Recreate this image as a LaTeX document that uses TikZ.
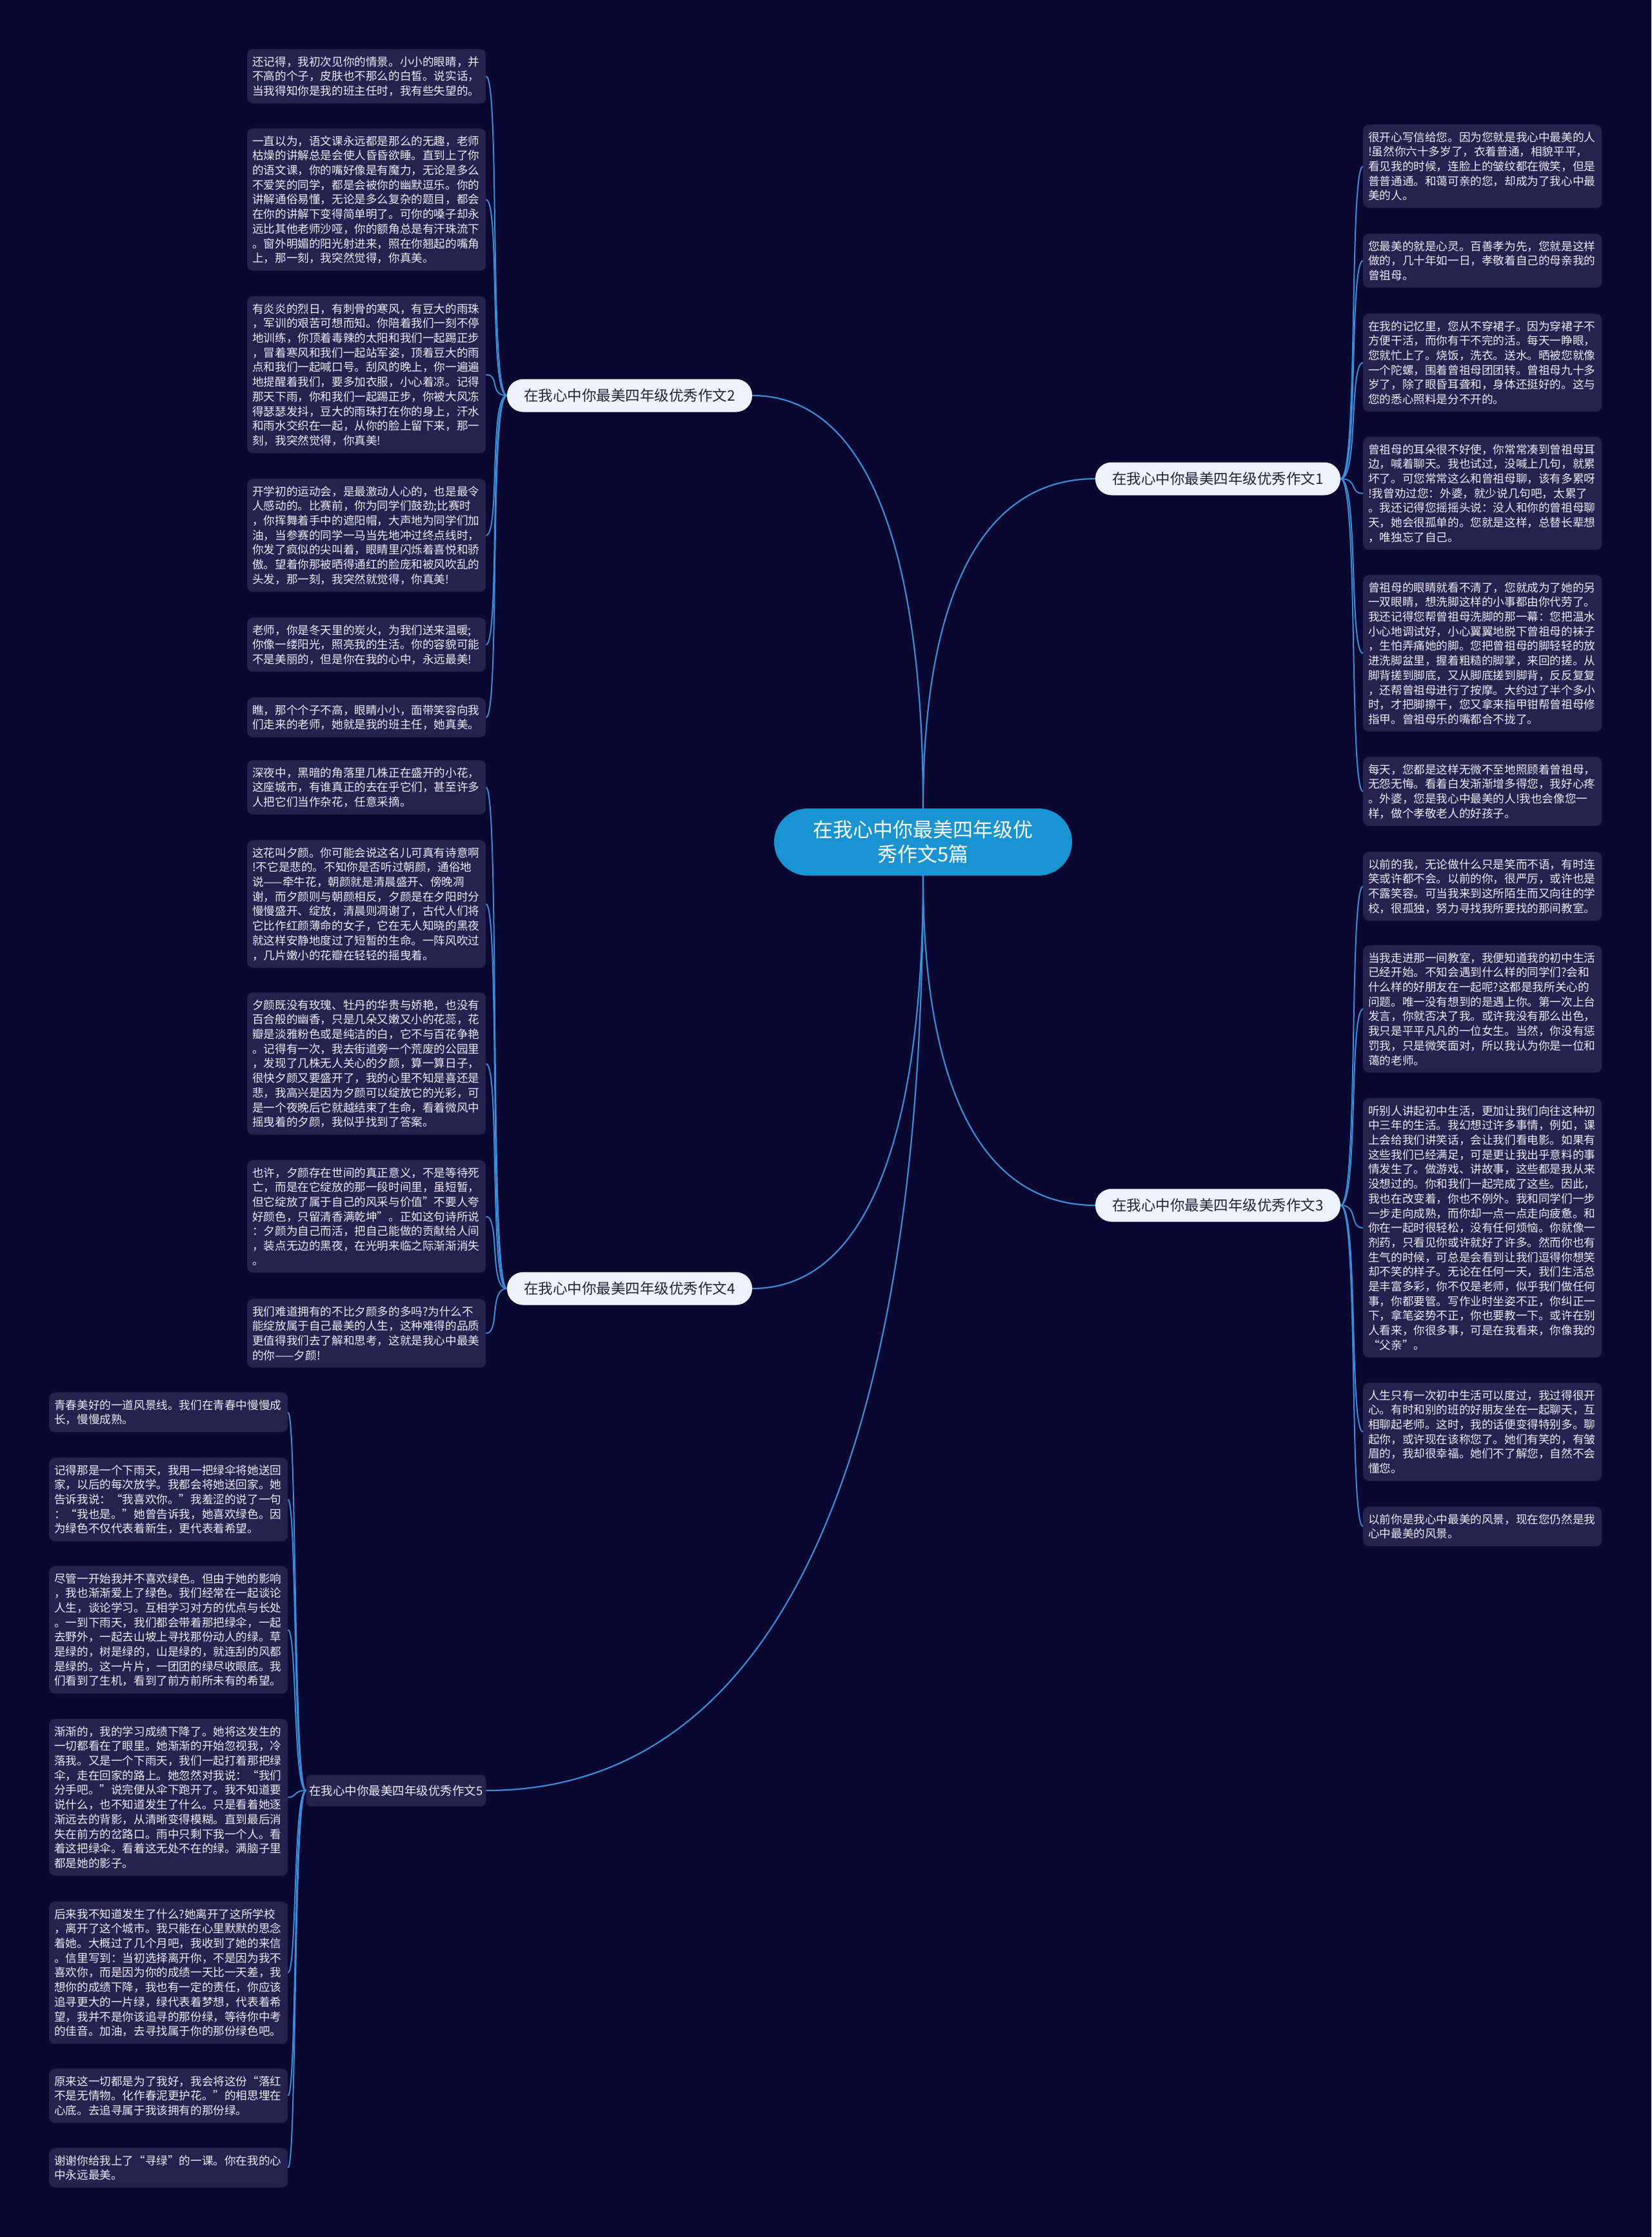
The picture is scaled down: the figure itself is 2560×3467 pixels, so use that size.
\documentclass[tikz,border=0pt]{standalone}
\usepackage{fontspec}
\setmainfont{Noto Sans CJK SC}
\usetikzlibrary{calc}
\definecolor{bgc}{HTML}{0A0731}
\definecolor{leafc}{HTML}{25224F}
\definecolor{leaftext}{HTML}{ECECF4}
\definecolor{linec}{HTML}{3A8DD6}
\definecolor{rootc}{HTML}{1A93D3}
\definecolor{branchc}{HTML}{EEF3FB}
\definecolor{branchtext}{HTML}{222233}
\begin{document}
\begin{tikzpicture}[x=1pt,y=-1pt,
 leaf/.style={fill=leafc, rounded corners=9pt, text width=354pt, inner xsep=8pt, inner ysep=11pt, align=left, font=\fontsize{17.6pt}{22.7pt}\selectfont, text=leaftext, anchor=north west},
 branch/.style={fill=branchc, rounded corners=25pt, minimum width=380pt, minimum height=51pt, inner sep=0pt, font=\fontsize{22.5pt}{27pt}\selectfont, text=branchtext},
 branchdark/.style={fill=leafc, rounded corners=8pt, minimum width=279pt, minimum height=49pt, inner sep=0pt, font=\fontsize{18.5pt}{22pt}\selectfont, text=leaftext},
 rootnode/.style={fill=rootc, rounded corners=52pt, minimum width=462pt, minimum height=104pt, align=center, font=\fontsize{31pt}{38pt}\selectfont, text=white},
 conn/.style={draw=linec, line width=2.2pt},
 lconn/.style={draw=linec, line width=2pt},
]
\useasboundingbox (0,0) rectangle (2560,3467);
\fill[bgc] (0,0) rectangle (2560,3467);

% root and branches
\node[rootnode] (root) at (1431,1305) {在我心中你最美四年级优\\秀作文5篇};
\node[branch] (b1) at (1888,742) {在我心中你最美四年级优秀作文1};
\node[branch] (b2) at (976,613) {在我心中你最美四年级优秀作文2};
\node[branch] (b3) at (1888,1868) {在我心中你最美四年级优秀作文3};
\node[branch] (b4) at (976,1997) {在我心中你最美四年级优秀作文4};
\node[branchdark] (b5) at (614,2775) {在我心中你最美四年级优秀作文5};

% branch 1 leaves
\node[leaf] (L1a) at (2113,193) {很开心写信给您。因为您就是我心中最美的人\\!虽然你六十多岁了，衣着普通，相貌平平，\\看见我的时候，连脸上的皱纹都在微笑，但是\\普普通通。和蔼可亲的您，却成为了我心中最\\美的人。};
\node[leaf] (L1b) at (2113,362) {您最美的就是心灵。百善孝为先，您就是这样\\做的，几十年如一日，孝敬着自己的母亲我的\\曾祖母。};
\node[leaf] (L1c) at (2113,486) {在我的记忆里，您从不穿裙子。因为穿裙子不\\方便干活，而你有干不完的活。每天一睁眼，\\您就忙上了。烧饭，洗衣。送水。晒被您就像\\一个陀螺，围着曾祖母团团转。曾祖母九十多\\岁了，除了眼昏耳聋和，身体还挺好的。这与\\您的悉心照料是分不开的。};
\node[leaf] (L1d) at (2113,677) {曾祖母的耳朵很不好使，你常常凑到曾祖母耳\\边，喊着聊天。我也试过，没喊上几句，就累\\坏了。可您常常这么和曾祖母聊，该有多累呀\\!我曾劝过您：外婆，就少说几句吧，太累了\\。我还记得您摇摇头说：没人和你的曾祖母聊\\天，她会很孤单的。您就是这样，总替长辈想\\，唯独忘了自己。};
\node[leaf] (L1e) at (2113,891) {曾祖母的眼睛就看不清了，您就成为了她的另\\一双眼睛，想洗脚这样的小事都由你代劳了。\\我还记得您帮曾祖母洗脚的那一幕：您把温水\\小心地调试好，小心翼翼地脱下曾祖母的袜子\\，生怕弄痛她的脚。您把曾祖母的脚轻轻的放\\进洗脚盆里，握着粗糙的脚掌，来回的搓。从\\脚背搓到脚底，又从脚底搓到脚背，反反复复\\，还帮曾祖母进行了按摩。大约过了半个多小\\时，才把脚擦干，您又拿来指甲钳帮曾祖母修\\指甲。曾祖母乐的嘴都合不拢了。};
\node[leaf] (L1f) at (2113,1173) {每天，您都是这样无微不至地照顾着曾祖母，\\无怨无悔。看着白发渐渐增多得您，我好心疼\\。外婆，您是我心中最美的人!我也会像您一\\样，做个孝敬老人的好孩子。};

% branch 2 leaves
\node[leaf] (L2a) at (383,76) {还记得，我初次见你的情景。小小的眼睛，并\\不高的个子，皮肤也不那么的白皙。说实话，\\当我得知你是我的班主任时，我有些失望的。};
\node[leaf] (L2b) at (383,199) {一直以为，语文课永远都是那么的无趣，老师\\枯燥的讲解总是会使人昏昏欲睡。直到上了你\\的语文课，你的嘴好像是有魔力，无论是多么\\不爱笑的同学，都是会被你的幽默逗乐。你的\\讲解通俗易懂，无论是多么复杂的题目，都会\\在你的讲解下变得简单明了。可你的嗓子却永\\远比其他老师沙哑，你的额角总是有汗珠流下\\。窗外明媚的阳光射进来，照在你翘起的嘴角\\上，那一刻，我突然觉得，你真美。};
\node[leaf] (L2c) at (383,459) {有炎炎的烈日，有刺骨的寒风，有豆大的雨珠\\，军训的艰苦可想而知。你陪着我们一刻不停\\地训练，你顶着毒辣的太阳和我们一起踢正步\\，冒着寒风和我们一起站军姿，顶着豆大的雨\\点和我们一起喊口号。刮风的晚上，你一遍遍\\地提醒着我们，要多加衣服，小心着凉。记得\\那天下雨，你和我们一起踢正步，你被大风冻\\得瑟瑟发抖，豆大的雨珠打在你的身上，汗水\\和雨水交织在一起，从你的脸上留下来，那一\\刻，我突然觉得，你真美!};
\node[leaf] (L2d) at (383,742) {开学初的运动会，是最激动人心的，也是最令\\人感动的。比赛前，你为同学们鼓劲;比赛时\\，你挥舞着手中的遮阳帽，大声地为同学们加\\油，当参赛的同学一马当先地冲过终点线时，\\你发了疯似的尖叫着，眼睛里闪烁着喜悦和骄\\傲。望着你那被晒得通红的脸庞和被风吹乱的\\头发，那一刻，我突然就觉得，你真美!};
\node[leaf] (L2e) at (383,957) {老师，你是冬天里的炭火，为我们送来温暖;\\你像一缕阳光，照亮我的生活。你的容貌可能\\不是美丽的，但是你在我的心中，永远最美!};
\node[leaf] (L2f) at (383,1081) {瞧，那个个子不高，眼睛小小，面带笑容向我\\们走来的老师，她就是我的班主任，她真美。};

% branch 3 leaves
\node[leaf] (L3a) at (2113,1320) {以前的我，无论做什么只是笑而不语，有时连\\笑或许都不会。以前的你，很严厉，或许也是\\不露笑容。可当我来到这所陌生而又向往的学\\校，很孤独，努力寻找我所要找的那间教室。};
\node[leaf] (L3b) at (2113,1465) {当我走进那一间教室，我便知道我的初中生活\\已经开始。不知会遇到什么样的同学们?会和\\什么样的好朋友在一起呢?这都是我所关心的\\问题。唯一没有想到的是遇上你。第一次上台\\发言，你就否决了我。或许我没有那么出色，\\我只是平平凡凡的一位女生。当然，你没有惩\\罚我，只是微笑面对，所以我认为你是一位和\\蔼的老师。};
\node[leaf] (L3c) at (2113,1702) {听别人讲起初中生活，更加让我们向往这种初\\中三年的生活。我幻想过许多事情，例如，课\\上会给我们讲笑话，会让我们看电影。如果有\\这些我们已经满足，可是更让我出乎意料的事\\情发生了。做游戏、讲故事，这些都是我从来\\没想过的。你和我们一起完成了这些。因此，\\我也在改变着，你也不例外。我和同学们一步\\一步走向成熟，而你却一点一点走向疲惫。和\\你在一起时很轻松，没有任何烦恼。你就像一\\剂药，只看见你或许就好了许多。然而你也有\\生气的时候，可总是会看到让我们逗得你想笑\\却不笑的样子。无论在任何一天，我们生活总\\是丰富多彩，你不仅是老师，似乎我们做任何\\事，你都要管。写作业时坐姿不正，你纠正一\\下，拿笔姿势不正，你也要教一下。或许在别\\人看来，你很多事，可是在我看来，你像我的\\“父亲”。};
\node[leaf] (L3d) at (2113,2143) {人生只有一次初中生活可以度过，我过得很开\\心。有时和别的班的好朋友坐在一起聊天，互\\相聊起老师。这时，我的话便变得特别多。聊\\起你，或许现在该称您了。她们有笑的，有皱\\眉的，我却很幸福。她们不了解您，自然不会\\懂您。};
\node[leaf] (L3e) at (2113,2335) {以前你是我心中最美的风景，现在您仍然是我\\心中最美的风景。};

% branch 4 leaves
\node[leaf] (L4a) at (383,1178) {深夜中，黑暗的角落里几株正在盛开的小花，\\这座城市，有谁真正的去在乎它们，甚至许多\\人把它们当作杂花，任意采摘。};
\node[leaf] (L4b) at (383,1302) {这花叫夕颜。你可能会说这名儿可真有诗意啊\\!不它是悲的。不知你是否听过朝颜，通俗地\\说——牵牛花，朝颜就是清晨盛开、傍晚凋\\谢，而夕颜则与朝颜相反，夕颜是在夕阳时分\\慢慢盛开、绽放，清晨则凋谢了，古代人们将\\它比作红颜薄命的女子，它在无人知晓的黑夜\\就这样安静地度过了短暂的生命。一阵风吹过\\，几片嫩小的花瓣在轻轻的摇曳着。};
\node[leaf] (L4c) at (383,1538) {夕颜既没有玫瑰、牡丹的华贵与娇艳，也没有\\百合般的幽香，只是几朵又嫩又小的花蕊，花\\瓣是淡雅粉色或是纯洁的白，它不与百花争艳\\。记得有一次，我去街道旁一个荒废的公园里\\，发现了几株无人关心的夕颜，算一算日子，\\很快夕颜又要盛开了，我的心里不知是喜还是\\悲，我高兴是因为夕颜可以绽放它的光彩，可\\是一个夜晚后它就越结束了生命，看着微风中\\摇曳着的夕颜，我似乎找到了答案。};
\node[leaf] (L4d) at (383,1798) {也许，夕颜存在世间的真正意义，不是等待死\\亡，而是在它绽放的那一段时间里，虽短暂，\\但它绽放了属于自己的风采与价值"不要人夸\\好颜色，只留清香满乾坤"。正如这句诗所说\\：夕颜为自己而活，把自己能做的贡献给人间\\，装点无边的黑夜，在光明来临之际渐渐消失\\。};
\node[leaf] (L4e) at (383,2013) {我们难道拥有的不比夕颜多的多吗?为什么不\\能绽放属于自己最美的人生，这种难得的品质\\更值得我们去了解和思考，这就是我心中最美\\的你——夕颜!};

% branch 5 leaves
\node[leaf] (L5a) at (76,2158) {青春美好的一道风景线。我们在青春中慢慢成\\长，慢慢成熟。};
\node[leaf] (L5b) at (76,2259) {记得那是一个下雨天，我用一把绿伞将她送回\\家，以后的每次放学。我都会将她送回家。她\\告诉我说：“我喜欢你。”我羞涩的说了一句\\：“我也是。”她曾告诉我，她喜欢绿色。因\\为绿色不仅代表着新生，更代表着希望。};
\node[leaf] (L5c) at (76,2427) {尽管一开始我并不喜欢绿色。但由于她的影响\\，我也渐渐爱上了绿色。我们经常在一起谈论\\人生，谈论学习。互相学习对方的优点与长处\\。一到下雨天，我们都会带着那把绿伞，一起\\去野外，一起去山坡上寻找那份动人的绿。草\\是绿的，树是绿的，山是绿的，就连刮的风都\\是绿的。这一片片，一团团的绿尽收眼底。我\\们看到了生机，看到了前方前所未有的希望。};
\node[leaf] (L5d) at (76,2664) {渐渐的，我的学习成绩下降了。她将这发生的\\一切都看在了眼里。她渐渐的开始忽视我，冷\\落我。又是一个下雨天，我们一起打着那把绿\\伞，走在回家的路上。她忽然对我说：“我们\\分手吧。”说完便从伞下跑开了。我不知道要\\说什么，也不知道发生了什么。只是看着她逐\\渐远去的背影，从清晰变得模糊。直到最后消\\失在前方的岔路口。雨中只剩下我一个人。看\\着这把绿伞。看着这无处不在的绿。满脑子里\\都是她的影子。};
\node[leaf] (L5e) at (76,2947) {后来我不知道发生了什么?她离开了这所学校\\，离开了这个城市。我只能在心里默默的思念\\着她。大概过了几个月吧，我收到了她的来信\\。信里写到：当初选择离开你，不是因为我不\\喜欢你，而是因为你的成绩一天比一天差，我\\想你的成绩下降，我也有一定的责任，你应该\\追寻更大的一片绿，绿代表着梦想，代表着希\\望，我并不是你该追寻的那份绿，等待你中考\\的佳音。加油，去寻找属于你的那份绿色吧。};
\node[leaf] (L5f) at (76,3206) {原来这一切都是为了我好，我会将这份“落红\\不是无情物。化作春泥更护花。”的相思埋在\\心底。去追寻属于我该拥有的那份绿。};
\node[leaf] (L5g) at (76,3329) {谢谢你给我上了“寻绿”的一课。你在我的心\\中永远最美。};

% root -> branches
\draw[conn] (root.north) .. controls ($(root.north)!0.6!(root.north |- b1.west)$) and ($(b1.west)!0.7!(root.north |- b1.west)$) .. (b1.west);
\draw[conn] (root.north) .. controls ($(root.north)!0.6!(root.north |- b2.east)$) and ($(b2.east)!0.7!(root.north |- b2.east)$) .. (b2.east);
\draw[conn] (root.south) .. controls ($(root.south)!0.6!(root.south |- b3.west)$) and ($(b3.west)!0.7!(root.south |- b3.west)$) .. (b3.west);
\draw[conn] (root.south) .. controls ($(root.south)!0.6!(root.south |- b4.east)$) and ($(b4.east)!0.7!(root.south |- b4.east)$) .. (b4.east);
\draw[conn] (root.south) .. controls ($(root.south)!0.6!(root.south |- b5.east)$) and ($(b5.east)!0.7!(root.south |- b5.east)$) .. (b5.east);

% branch -> leaves
\foreach \l in {L1a,L1b,L1c,L1d,L1e,L1f}
  \draw[lconn] (b1.east) .. controls ($(b1.east)+(28,0)$) and ($(\l.west)+(-22,0)$) .. (\l.west);
\foreach \l in {L3a,L3b,L3c,L3d,L3e}
  \draw[lconn] (b3.east) .. controls ($(b3.east)+(28,0)$) and ($(\l.west)+(-22,0)$) .. (\l.west);
\foreach \l in {L2a,L2b,L2c,L2d,L2e,L2f}
  \draw[lconn] (b2.west) .. controls ($(b2.west)+(-28,0)$) and ($(\l.east)+(22,0)$) .. (\l.east);
\foreach \l in {L4a,L4b,L4c,L4d,L4e}
  \draw[lconn] (b4.west) .. controls ($(b4.west)+(-28,0)$) and ($(\l.east)+(22,0)$) .. (\l.east);
\foreach \l in {L5a,L5b,L5c,L5d,L5e,L5f,L5g}
  \draw[lconn] (b5.west) .. controls ($(b5.west)+(-20,0)$) and ($(\l.east)+(14,0)$) .. (\l.east);
\end{tikzpicture}
\end{document}
